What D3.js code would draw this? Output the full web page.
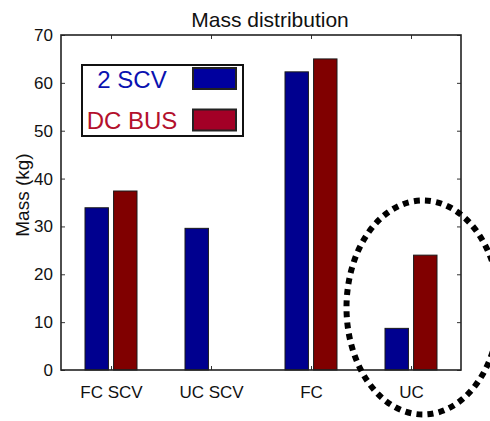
<!DOCTYPE html>
<html>
<head>
<meta charset="utf-8">
<script src="https://cdn.jsdelivr.net/npm/d3@7"></script>
<style>
  html, body { margin: 0; padding: 0; background: #fff; }
  svg { display: block; font-family: "Liberation Sans", Arial, sans-serif; }
</style>
</head>
<body>
<svg id="chart" width="490" height="421"></svg>
<script>
// ---- data ----
const categories = ["FC SCV", "UC SCV", "FC", "UC"];
const seriesNames = ["2 SCV", "DC BUS"];
const scv2 = [33.9, 29.6, 62.3, 8.7];
const dcBus = [37.4, 0, 65.0, 24.0];
const yTicks = [0, 10, 20, 30, 40, 50, 60, 70];
const titleText = "Mass distribution";
const yLabelText = "Mass (kg)";
const highlightCategory = "UC";

(function () {
// ---- layout ----
const svg = d3.select("#chart");
const pLeft = 61, pRight = 461, pTop = 35, pBottom = 370;

const x = d3.scaleBand().domain(categories).range([pLeft, pRight]).paddingInner(0).paddingOuter(0);
const xSub = d3.scaleBand().domain(seriesNames).range([24, 76]).paddingInner(0.18);
const y = d3.scaleLinear().domain([0, 70]).range([pBottom, pTop]);

const barColors = { "2 SCV": "#00008f", "DC BUS": "#800000" };
const legendFill = { "2 SCV": "#00009e", "DC BUS": "#a30026" };
const legendText = { "2 SCV": "#0a12b0", "DC BUS": "#b3102c" };

const rows = categories.map((c, i) => ({ cat: c, values: [
  { s: "2 SCV", v: scv2[i] }, { s: "DC BUS", v: dcBus[i] }
]}));

// bars
const g = svg.append("g");
rows.forEach(r => {
  g.selectAll(null).data(r.values).enter().append("rect")
    .attr("x", d => x(r.cat) + xSub(d.s))
    .attr("width", xSub.bandwidth())
    .attr("y", d => y(d.v))
    .attr("height", d => y(0) - y(d.v))
    .attr("fill", d => barColors[d.s])
    .attr("stroke", d => d.v === 0 ? "#aaa" : "#1a1a1a")
    .attr("stroke-width", d => d.v === 0 ? 1.5 : 1);
});

// axes (box with inward ticks)
const tickLen = 4;
const xCenter = c => x(c) + x.bandwidth() / 2;
const xPt = d3.scalePoint().domain(categories).range([xCenter(categories[0]), xCenter(categories[categories.length - 1])]);
const gxb = svg.append("g").attr("transform", `translate(0,${pBottom})`)
  .call(d3.axisBottom(xPt).tickSize(-tickLen).tickPadding(tickLen + 12));
gxb.select(".domain").remove();
gxb.selectAll("text").attr("font-size", 17).attr("fill", "#111").attr("font-family", "Liberation Sans, Arial, sans-serif");
gxb.selectAll("line").attr("stroke", "#333");

const gxt = svg.append("g").attr("transform", `translate(0,${pTop})`)
  .call(d3.axisTop(xPt).tickSize(-tickLen).tickFormat(""));
gxt.select(".domain").remove();
gxt.selectAll("line").attr("stroke", "#333");

const gyl = svg.append("g").attr("transform", `translate(${pLeft},0)`)
  .call(d3.axisLeft(y).tickValues(yTicks).tickSize(-tickLen).tickPadding(tickLen + 4));
gyl.select(".domain").remove();
gyl.selectAll("text").attr("font-size", 17).attr("fill", "#111").attr("font-family", "Liberation Sans, Arial, sans-serif");
gyl.selectAll("line").attr("stroke", "#333");

const gyr = svg.append("g").attr("transform", `translate(${pRight},0)`)
  .call(d3.axisRight(y).tickValues(yTicks).tickSize(-tickLen).tickFormat(""));
gyr.select(".domain").remove();
gyr.selectAll("line").attr("stroke", "#333");

// box
svg.append("rect").attr("x", pLeft).attr("y", pTop).attr("width", pRight - pLeft).attr("height", pBottom - pTop)
  .attr("fill", "none").attr("stroke", "#222").attr("stroke-width", 1.6);

// title
svg.append("text").attr("x", 270).attr("y", 27).attr("text-anchor", "middle")
  .attr("font-size", 21).attr("fill", "#111").text(titleText);

// y label
svg.append("text").attr("transform", "translate(29,195) rotate(-90)").attr("text-anchor", "middle")
  .attr("font-size", 19).attr("fill", "#111").text(yLabelText);

// legend
const lg = svg.append("g");
lg.append("rect").attr("x", 82).attr("y", 65).attr("width", 161).attr("height", 71)
  .attr("fill", "#fff").attr("stroke", "#111").attr("stroke-width", 2);
const legY = [78.5, 120];
seriesNames.forEach((s, i) => {
  lg.append("rect").attr("x", 193).attr("y", legY[i] - 10.5).attr("width", 43).attr("height", 21)
    .attr("fill", legendFill[s]).attr("stroke", "#222").attr("stroke-width", 2);
  lg.append("text").attr("x", i === 0 ? 132 : 132).attr("y", legY[i] + 9).attr("text-anchor", "middle")
    .attr("font-size", 24).attr("fill", legendText[s]).text(s);
});

// dotted highlight ellipse around UC
const cx = xCenter(highlightCategory) + 12;
svg.append("ellipse").attr("cx", cx).attr("cy", 307.5).attr("rx", 76.5).attr("ry", 107)
  .attr("fill", "none").attr("stroke", "#000").attr("stroke-width", 6)
  .attr("stroke-dasharray", "6 5.2");
})();
</script>
</body>
</html>
